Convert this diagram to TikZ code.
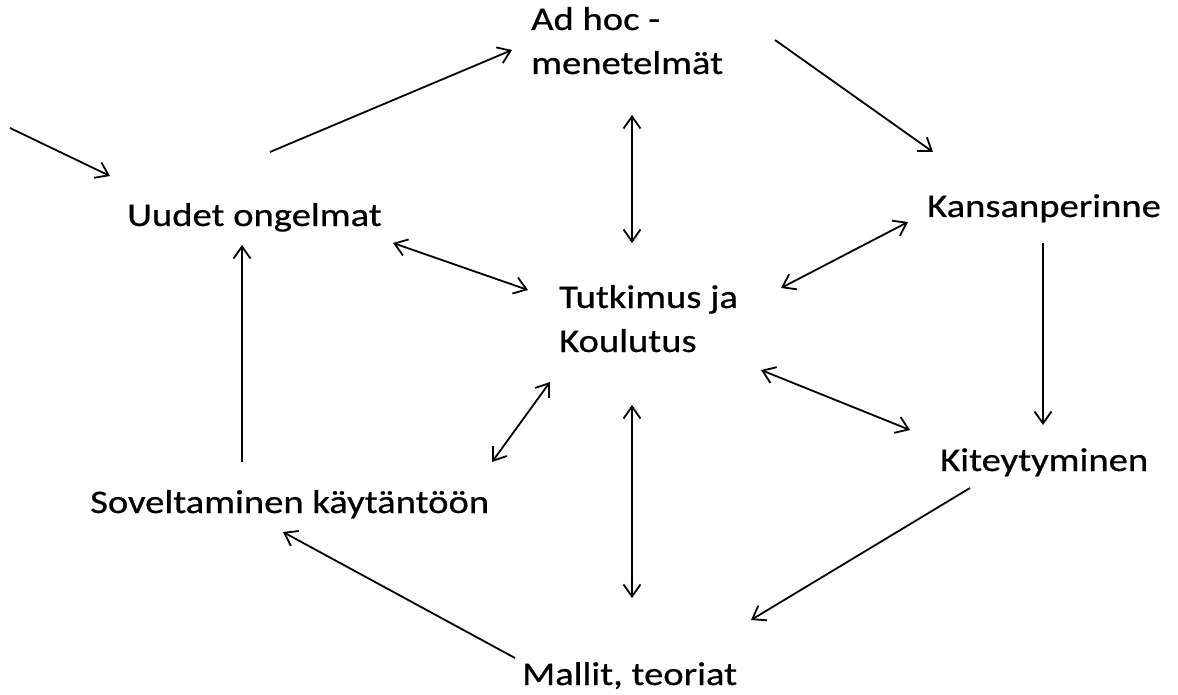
\documentclass[tikz,border=0pt]{standalone}
\usepackage{fontspec}
\newfontfamily\lblfont[FakeStretch=1.17,FakeBold=0.6]{Carlito}
\usetikzlibrary{arrows.meta}
\begin{document}
\begin{tikzpicture}[x=1pt,y=-1pt,
  lbl/.style={anchor=base west,inner sep=0pt,align=left,
    font=\lblfont\fontsize{33}{44}\selectfont},
  arr/.style={line width=1.8pt,-{Straight Barb[length=12pt,width=17pt,line width=1.8pt]}},
  darr/.style={line width=1.8pt,{Straight Barb[length=12pt,width=17pt,line width=1.8pt]}-{Straight Barb[length=12pt,width=17pt,line width=1.8pt]}}]
\useasboundingbox (0,0) rectangle (1178,695);
\fill[white] (0,0) rectangle (1178,695);

% labels (base anchor of a two-line label sits on its last line)
\node[lbl] (adhoc) at (531,74) {Ad hoc -\\menetelmät};
\node[lbl] (uudet) at (127,226) {Uudet ongelmat};
\node[lbl] (kansa) at (927,217) {Kansanperinne};
\node[lbl] (tutk) at (559,352) {Tutkimus ja\\Koulutus};
\node[lbl] (sovel) at (90,513) {Soveltaminen käytäntöön};
\node[lbl] (kitey) at (940,471) {Kiteytyminen};
\node[lbl] (malli) at (522,685) {Mallit, teoriat};

% connector end points
\coordinate (in0) at (10,128);   \coordinate (in1) at (110,176);
\coordinate (a0) at (270,152);   \coordinate (a1) at (512,50);
\coordinate (b0) at (775,40);    \coordinate (b1) at (933,152);
\coordinate (c0) at (632,115);   \coordinate (c1) at (632,243);
\coordinate (d0) at (393,243);   \coordinate (d1) at (528,290);
\coordinate (e0) at (908,222);   \coordinate (e1) at (781,288);
\coordinate (f0) at (1043,243);  \coordinate (f1) at (1043,425);
\coordinate (g0) at (761,370);   \coordinate (g1) at (910,430);
\coordinate (h0) at (550,382);   \coordinate (h1) at (492,462);
\coordinate (i0) at (632,405);   \coordinate (i1) at (632,598);
\coordinate (j0) at (970,488);   \coordinate (j1) at (751,620);
\coordinate (k0) at (515,658);   \coordinate (k1) at (283,532);
\coordinate (l0) at (242,462);   \coordinate (l1) at (242,245);

% cycle
\draw[arr] (in0) -- (in1);
\draw[arr] (a0) -- (a1);
\draw[arr] (b0) -- (b1);
\draw[arr] (f0) -- (f1);
\draw[arr] (j0) -- (j1);
\draw[arr] (k0) -- (k1);
\draw[arr] (l0) -- (l1);
% links to the centre
\draw[darr] (c0) -- (c1);
\draw[darr] (d0) -- (d1);
\draw[darr] (e0) -- (e1);
\draw[darr] (g0) -- (g1);
\draw[darr] (h0) -- (h1);
\draw[darr] (i0) -- (i1);
\end{tikzpicture}
\end{document}
